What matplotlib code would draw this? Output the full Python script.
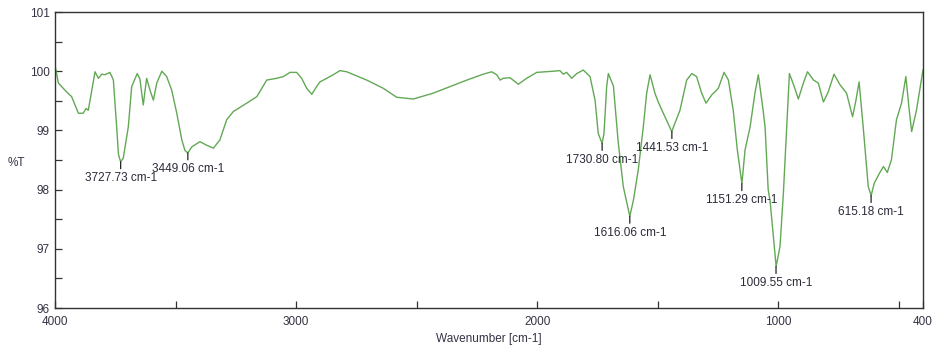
import matplotlib
matplotlib.use("Agg")
import matplotlib.pyplot as plt
from matplotlib.ticker import FixedLocator, MultipleLocator

plt.rcParams['font.family'] = ['Liberation Sans', 'DejaVu Sans']

# traced spectrum (wavenumber, %T)
wavenumber = [4000, 3986, 3952, 3931, 3903, 3883, 3871, 3862, 3834, 3820, 3806, 3793,
              3772, 3758, 3745, 3737, 3728, 3717, 3696, 3682, 3659, 3648, 3634, 3620,
              3606, 3592, 3578, 3557, 3537, 3516, 3495, 3474, 3461, 3449, 3433, 3399,
              3371, 3343, 3316, 3288, 3260, 3205, 3163, 3122, 3081, 3053, 3025, 2998,
              2977, 2956, 2935, 2915, 2901, 2873, 2846, 2818, 2790, 2707, 2638, 2583,
              2514, 2431, 2362, 2292, 2224, 2189, 2168, 2154, 2141, 2113, 2078, 2044,
              2002, 1933, 1906, 1892, 1878, 1857, 1836, 1809, 1781, 1760, 1747, 1731,
              1723, 1712, 1705, 1684, 1664, 1643, 1616, 1601, 1581, 1560, 1546, 1532,
              1512, 1498, 1477, 1442, 1429, 1408, 1380, 1359, 1339, 1318, 1300, 1276,
              1249, 1225, 1207, 1187, 1170, 1151, 1138, 1117, 1097, 1083, 1063, 1055,
              1042, 1034, 1017, 1009, 993, 979, 965, 954, 934, 917, 896, 879, 854, 834,
              813, 793, 769, 744, 717, 692, 678, 665, 648, 627, 615, 602, 580, 564,
              548, 531, 510, 489, 471, 457, 447, 427, 401, 400]
transmittance = [100.10, 99.80, 99.65, 99.57, 99.29, 99.29, 99.37, 99.34, 99.99, 99.88, 99.95, 99.94,
                 99.98, 99.85, 99.10, 98.60, 98.47, 98.53, 99.06, 99.74, 99.96, 99.87, 99.43, 99.88,
                 99.68, 99.51, 99.80, 100.00, 99.91, 99.68, 99.29, 98.84, 98.66, 98.62, 98.72, 98.81,
                 98.75, 98.70, 98.84, 99.18, 99.32, 99.46, 99.57, 99.85, 99.88, 99.91, 99.98, 99.98,
                 99.88, 99.71, 99.61, 99.74, 99.82, 99.88, 99.94, 100.01, 99.99, 99.85, 99.71, 99.56,
                 99.53, 99.63, 99.74, 99.85, 99.95, 99.99, 99.94, 99.85, 99.88, 99.89, 99.78, 99.88,
                 99.98, 100.00, 100.01, 99.95, 99.98, 99.88, 99.96, 100.02, 99.91, 99.51, 98.95, 98.78,
                 98.95, 99.74, 99.96, 99.75, 98.80, 98.05, 97.55, 97.82, 98.33, 99.06, 99.63, 99.94,
                 99.63, 99.48, 99.29, 98.98, 99.12, 99.34, 99.85, 99.96, 99.91, 99.63, 99.46, 99.60,
                 99.71, 99.98, 99.85, 99.34, 98.67, 98.10, 98.67, 99.06, 99.63, 99.94, 99.34, 99.06,
                 98.00, 97.80, 97.04, 96.70, 97.04, 97.94, 99.06, 99.96, 99.74, 99.53, 99.80, 99.99, 99.85, 99.80,
                 99.48, 99.65, 99.95, 99.77, 99.63, 99.23, 99.51, 99.82, 99.06, 98.05, 97.90, 98.11, 98.28, 98.39,
                 98.29, 98.50, 99.18, 99.46, 99.91, 99.34, 98.98, 99.34, 99.99, 100.02]

# picked peaks
peak_wn = [3727.73, 3449.06, 1730.80, 1616.06, 1441.53, 1151.29, 1009.55, 615.18]
peak_t = [98.47, 98.62, 98.78, 97.55, 98.98, 98.10, 96.70, 97.90]

fig = plt.figure(figsize=(9.34, 3.51), dpi=100)
ax = fig.add_axes([0.0589, 0.1225, 0.9293, 0.8433])

ax.plot(wavenumber, transmittance, color='#62a855', lw=1.0)

for wn, t in zip(peak_wn, peak_t):
    ax.annotate('', xy=(wn, t), xytext=(0, -5), textcoords='offset points',
                arrowprops=dict(arrowstyle='-', color='#222222', lw=0.9, shrinkA=0, shrinkB=0))
    ax.annotate(f'{wn:.2f} cm-1', xy=(wn, t), xytext=(0, -7.5), textcoords='offset points',
                ha='center', va='top', fontsize=8.5, color='#2a2a3a')

ax.set_xlim(4000, 400)
ax.set_ylim(96, 101)
ax.xaxis.set_major_locator(FixedLocator([4000, 3000, 2000, 1000, 400]))
ax.xaxis.set_minor_locator(FixedLocator([3500, 2500, 1500, 500]))
ax.yaxis.set_major_locator(MultipleLocator(1))
ax.yaxis.set_minor_locator(MultipleLocator(0.5))
ax.tick_params(which='both', direction='in', length=5, width=0.9, color='#333333',
               labelsize=8.5, labelcolor='#333344')
ax.tick_params(axis='x', pad=6)
ax.tick_params(axis='y', pad=4)

for s in ax.spines.values():
    s.set_color('#333333')
    s.set_linewidth(1.0)

ax.set_xlabel('Wavenumber [cm-1]', fontsize=8.5, color='#333344', labelpad=3)
ax.set_ylabel('%T', fontsize=8.5, color='#333344', rotation=0)
ax.yaxis.set_label_coords(-0.045, 0.47)

fig.savefig('out.png', dpi=100)
